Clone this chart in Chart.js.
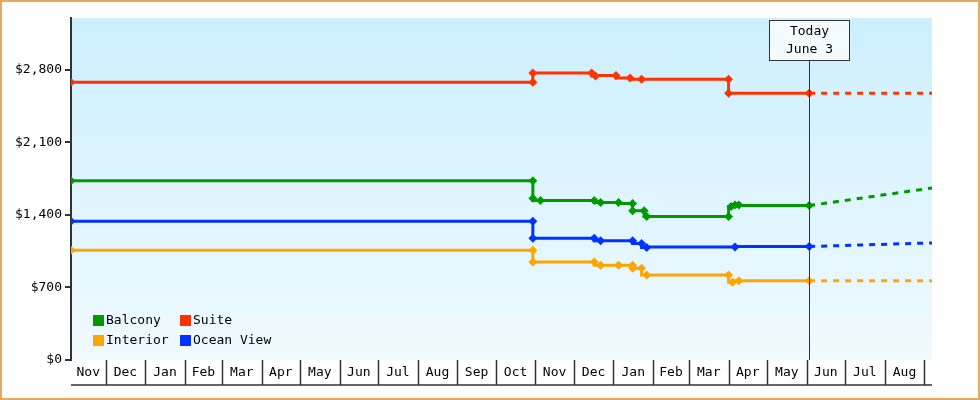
<!DOCTYPE html>
<html><head><meta charset="utf-8">
<script src="https://cdn.jsdelivr.net/npm/chart.js@4/dist/chart.umd.min.js"></script>
<style>html,body{margin:0;padding:0;background:#fff}#w{width:980px;height:400px;position:relative;box-sizing:border-box}canvas{display:block}</style>
</head><body><div id="w"><canvas id="c" width="980" height="400"></canvas></div>
<script>
// x values = days since Nov 1 (year 1)
const monthLabels = ["Nov","Dec","Jan","Feb","Mar","Apr","May","Jun","Jul","Aug","Sep","Oct","Nov","Dec","Jan","Feb","Mar","Apr","May","Jun","Jul","Aug","Sep"];
const monthStarts = [0,30,61,92,121,152,182,213,243,274,305,335,366,396,427,458,486,517,547,578,608,639,670,700];
const yTicks = [0,700,1400,2100,2800];
const todayDay = 580;
const todayLabel = ["Today","June 3"];

const balcony = [[3,1730],[364,1730],[364,1560],[370,1540],[412,1540],[417,1520],[431,1520],[442,1510],[442,1440],[451,1440],[453,1385],[517,1385],[519,1480],[522,1495],[525,1495],[580,1490]];
const suite = [[3,2680],[364,2680],[364,2770],[410,2770],[413,2740],[429,2745],[440,2720],[449,2710],[517,2710],[517,2575],[580,2575]];
const interior = [[3,1060],[364,1060],[364,945],[412,945],[417,915],[431,915],[442,915],[442,885],[449,885],[453,820],[517,820],[520,750],[525,765],[580,765]];
const oceanView = [[3,1340],[364,1340],[364,1175],[412,1175],[417,1150],[442,1150],[449,1125],[453,1085],[522,1090],[580,1095]];
const balconyProj = [[580,1490],[676,1660]];
const suiteProj = [[580,2575],[676,2575]];
const interiorProj = [[580,765],[676,765]];
const oceanProj = [[580,1095],[676,1130]];

const FONT = "'DejaVu Sans Mono', monospace";
const pts = a => a.map(p => ({x:p[0], y:p[1]}));
function ds(label, data, color){
  return {label, data:pts(data), borderColor:color, backgroundColor:color, borderWidth:3, stepped:'after',
    pointStyle:'rectRot', pointRadius:4.5, pointBorderWidth:0, legend:true};
}
function proj(data, color){
  return {label:'', data:pts(data), borderColor:color, borderWidth:3, borderDash:[6,6], pointRadius:0, tension:0, legend:false};
}
const datasets = [
  proj(balconyProj,'#009900'), proj(suiteProj,'#ff3300'), proj(interiorProj,'#ffa500'), proj(oceanProj,'#0033ff'),
  ds('Balcony',balcony,'#009900'), ds('Suite',suite,'#ff3300'), ds('Interior',interior,'#ffa500'), ds('Ocean View',oceanView,'#0033ff')
];

const deco = {
  id:'deco',
  beforeDraw(ch){
    const {ctx, chartArea:a} = ch;
    const g = ctx.createLinearGradient(0,a.top,0,a.bottom);
    g.addColorStop(0,'#ccefff'); g.addColorStop(1,'#f0faff');
    ctx.save(); ctx.fillStyle=g; ctx.fillRect(a.left,a.top,a.right-a.left,a.bottom-a.top); ctx.restore();
  },
  afterDraw(ch){
    const {ctx, chartArea:a} = ch; const xs = ch.scales.x;
    ctx.save();
    // month band
    ctx.strokeStyle='#333'; ctx.lineWidth=1.5; ctx.fillStyle='#000';
    ctx.font="13px "+FONT; ctx.textAlign='center'; ctx.textBaseline='middle';
    const top=a.bottom, bot=a.bottom+25;
    ctx.beginPath(); ctx.moveTo(a.left,bot); ctx.lineTo(a.right,bot); ctx.stroke();
    for(let i=0;i<monthLabels.length;i++){
      const x0=Math.max(a.left,xs.getPixelForValue(monthStarts[i]));
      const x1=Math.min(a.right,xs.getPixelForValue(monthStarts[i+1]));
      if(x1<=x0) continue;
      if(x1<a.right-1){ctx.beginPath(); ctx.moveTo(Math.round(x1)+0.5,top); ctx.lineTo(Math.round(x1)+0.5,bot); ctx.stroke();}
      if(x1-x0>20) ctx.fillText(monthLabels[i],(x0+x1)/2,top+13);
    }
    // today
    const tx=Math.round(xs.getPixelForValue(todayDay))+0.5;
    ctx.lineWidth=1; ctx.strokeStyle='#333';
    ctx.beginPath(); ctx.moveTo(tx,60); ctx.lineTo(tx,a.bottom); ctx.stroke();
    ctx.fillStyle='#f4fbff'; ctx.fillRect(tx-40,20,80,40); ctx.strokeRect(tx-40,20.5,80,40);
    ctx.fillStyle='#000'; ctx.fillText(todayLabel[0],tx,32); ctx.fillText(todayLabel[1],tx,50);
    // legend
    const items = datasets.filter(d=>d.legend);
    const pos=[[93,320],[180,320],[93,340],[180,340]];
    ctx.textAlign='left';
    items.forEach((d,i)=>{const [x,y]=pos[i]; ctx.fillStyle=d.borderColor; ctx.fillRect(x,y-5,11,11);
      ctx.fillStyle='#000'; ctx.fillText(d.label,x+13,y+1);});
    // outer border
    ctx.strokeStyle='#e8a95e'; ctx.lineWidth=2; ctx.strokeRect(1,1,978,398);
    ctx.restore();
  }
};

new Chart(document.getElementById('c'),{
  type:'line',
  data:{datasets},
  options:{responsive:false, animation:false, devicePixelRatio:1,
    layout:{padding:{top:18,right:48,bottom:40,left:0}},
    plugins:{legend:{display:false},tooltip:{enabled:false}},
    scales:{
      x:{type:'linear',min:3,max:676,display:false},
      y:{min:0,max:3300,afterFit(s){s.width=71;},
        afterBuildTicks(s){s.ticks=yTicks.map(v=>({value:v}));},
        ticks:{color:'#000',font:{family:FONT,size:13},padding:3,callback:v=>'$'+v.toLocaleString('en-US')},
        grid:{drawOnChartArea:false,tickLength:6,color:'#333',lineWidth:2},
        border:{color:'#333',width:2}}
    }
  },
  plugins:[deco]
});
</script></body></html>
